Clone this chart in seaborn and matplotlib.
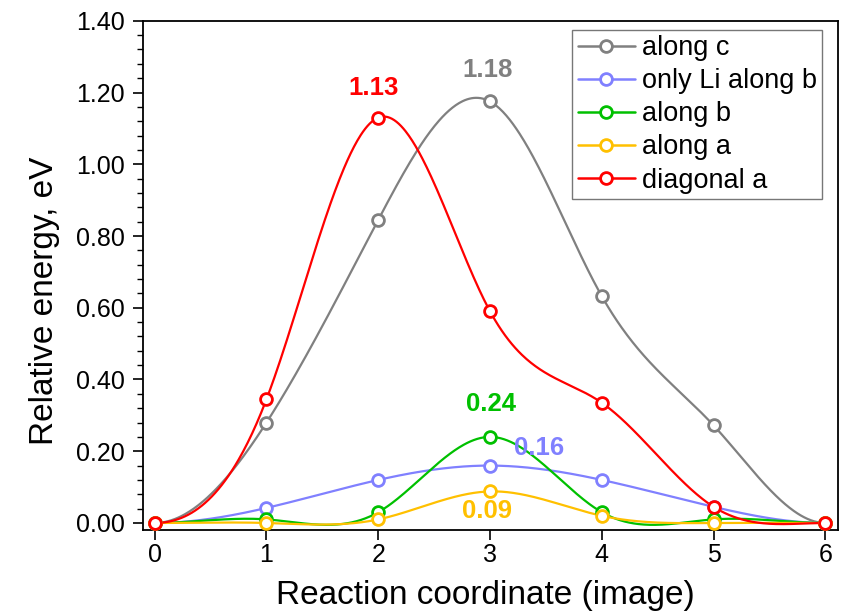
import numpy as np
import pandas as pd
import matplotlib
matplotlib.use("Agg")
import matplotlib.pyplot as plt
import seaborn as sns
from matplotlib.lines import Line2D
from matplotlib.ticker import MultipleLocator, FormatStrFormatter

# data
images = [0, 1, 2, 3, 4, 5, 6]
along_c = [0.0, 0.28, 0.845, 1.175, 0.632, 0.272, 0.0]
only_li_along_b = [0.0, 0.042, 0.12, 0.16, 0.12, 0.045, 0.0]
along_b = [0.0, 0.01, 0.03, 0.24, 0.03, 0.01, 0.0]
along_a = [0.0, 0.0, 0.01, 0.088, 0.02, 0.0, 0.0]
diagonal_a = [0.0, 0.345, 1.13, 0.59, 0.335, 0.045, 0.0]

series_names = ["along c", "only Li along b", "along b", "along a", "diagonal a"]
series_values = [along_c, only_li_along_b, along_b, along_a, diagonal_a]
colors = ["#808080", "#8080FF", "#00C000", "#FFC000", "#FF0000"]

labels = ["1.18", "1.13", "0.24", "0.16", "0.09"]
label_pos = [(2.98, 1.263), (1.96, 1.212), (3.01, 0.333), (3.44, 0.208), (2.97, 0.033)]
label_colors = ["#808080", "#FF0000", "#00C000", "#8080FF", "#FFC000"]


def clamped_spline(x, y, xs):
    # cubic spline with zero slope at both ends
    x = np.asarray(x, float)
    y = np.asarray(y, float)
    n = len(x)
    h = np.diff(x)
    A = np.zeros((n, n))
    b = np.zeros(n)
    A[0, 0], A[0, 1] = 2 * h[0], h[0]
    b[0] = 3 * (y[1] - y[0]) / h[0]
    A[-1, -2], A[-1, -1] = h[-1], 2 * h[-1]
    b[-1] = -3 * (y[-1] - y[-2]) / h[-1]
    for i in range(1, n - 1):
        A[i, i - 1] = h[i - 1]
        A[i, i] = 2 * (h[i - 1] + h[i])
        A[i, i + 1] = h[i]
        b[i] = 3 * ((y[i + 1] - y[i]) / h[i] - (y[i] - y[i - 1]) / h[i - 1])
    c = np.linalg.solve(A, b)
    idx = np.clip(np.searchsorted(x, xs) - 1, 0, n - 2)
    dx = xs - x[idx]
    bb = (y[idx + 1] - y[idx]) / h[idx] - h[idx] * (2 * c[idx] + c[idx + 1]) / 3
    d = (c[idx + 1] - c[idx]) / (3 * h[idx])
    return y[idx] + bb * dx + c[idx] * dx ** 2 + d * dx ** 3


sns.set_theme(style="ticks")
plt.rcParams["font.family"] = ["Liberation Sans", "DejaVu Sans"]
plt.rcParams.update({"text.color": "black", "axes.labelcolor": "black",
                     "xtick.color": "black", "ytick.color": "black"})

fig, ax = plt.subplots(figsize=(8.51, 6.11), dpi=100)
fig.subplots_adjust(left=0.168, right=0.985, top=0.966, bottom=0.1326)

xs = np.linspace(0, 6, 600)
rows = []
for name, vals in zip(series_names, series_values):
    for xv, yv in zip(xs, clamped_spline(images, vals, xs)):
        rows.append((name, xv, yv))
curves = pd.DataFrame(rows, columns=["series", "x", "y"])
points = pd.DataFrame(
    [(n, xv, yv) for n, vals in zip(series_names, series_values) for xv, yv in zip(images, vals)],
    columns=["series", "x", "y"],
)
palette = dict(zip(series_names, colors))

sns.lineplot(data=curves, x="x", y="y", hue="series", palette=palette,
             linewidth=1.6, legend=False, ax=ax, sort=False)
for name, col in zip(series_names, colors):
    sub = points[points.series == name]
    ax.plot(sub.x, sub.y, linestyle="none", marker="o", markersize=8.5,
            markerfacecolor="white", markeredgecolor=col, markeredgewidth=2.0, zorder=3)

for txt, (tx, ty), col in zip(labels, label_pos, label_colors):
    ax.text(tx, ty, txt, color=col, fontsize=18.5, fontweight="bold", ha="center", va="center")

ax.set_xlim(-0.105, 6.115)
ax.set_ylim(-0.0195, 1.40)
ax.xaxis.set_major_locator(MultipleLocator(1))
ax.yaxis.set_major_locator(MultipleLocator(0.2))
ax.yaxis.set_minor_locator(MultipleLocator(0.04))
ax.yaxis.set_major_formatter(FormatStrFormatter("%.2f"))
ax.tick_params(axis="both", which="major", labelsize=18, length=7.5, width=1.2,
               direction="out", color="black", labelcolor="black")
ax.tick_params(axis="y", which="major", pad=5.5)
ax.tick_params(axis="x", which="major", pad=2)
ax.tick_params(axis="y", which="minor", length=4, width=1.0, color="black")
for sp in ax.spines.values():
    sp.set_color("black")
    sp.set_linewidth(1.3)
ax.set_xlabel("Reaction coordinate (image)", fontsize=24, color="black")
ax.set_ylabel("Relative energy, eV", fontsize=24, color="black")
ax.xaxis.set_label_coords(0.493, -0.098)
ax.yaxis.set_label_coords(-0.12, 0.45)

handles = [Line2D([0], [0], color=c, linewidth=1.8, marker="o", markersize=8.5,
                  markerfacecolor="white", markeredgecolor=c, markeredgewidth=2.0)
           for c in colors]
leg = ax.legend(handles, series_names, loc="upper right", fontsize=19.5, frameon=True,
                fancybox=False, edgecolor="#555555", handlelength=2.1, handletextpad=0.26,
                labelspacing=0.26, borderpad=0.2, borderaxespad=0,
                bbox_to_anchor=(0.977, 0.982))
leg.get_frame().set_linewidth(1.0)

plt.savefig("out.png", dpi=100, facecolor="white")
